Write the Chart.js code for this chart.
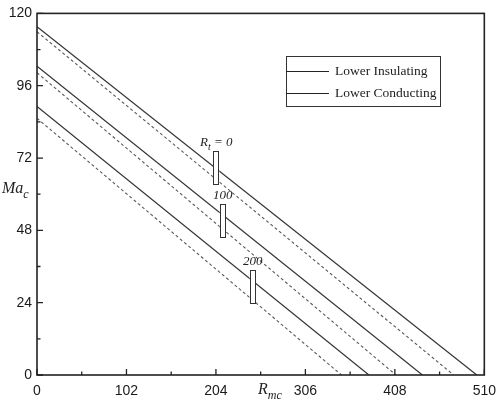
<!DOCTYPE html>
<html>
<head>
<meta charset="utf-8">
<script src="https://cdn.jsdelivr.net/npm/chart.js@4.4.1/dist/chart.umd.min.js"></script>
<style>
  html, body { margin: 0; padding: 0; background: #fff; }
  #chart { display: block; }
</style>
</head>
<body>
<canvas id="chart" width="504" height="399"></canvas>
<script>
// Rt levels and the lines
var rtLabels = ['R_t = 0', '100', '200'];
// Ma_c where each line meets Rmc = 0, and Rmc where it meets Ma_c = 0
var insulStart = [115.6, 102.5, 89.1];
var insulEnd = [501.4, 439.4, 378.4];
var conductStart = [113.9, 100.3, 85.2];
var conductEnd = [475, 409.2, 347.2];
// marker boxes: Rmc position and Ma_c range
var boxR = [204.4, 211.8, 246];
var boxLow = [63.4, 45.9, 23.7];
var boxHigh = [74.3, 56.8, 34.7];
// axis ticks
var xTicks = [0, 102, 204, 306, 408, 510];
var yTicks = [0, 24, 48, 72, 96, 120];

var SERIF = '"Liberation Serif", "Times New Roman", serif';
var SANS = '"Liberation Sans", Arial, sans-serif';

var datasets = [];
for (var i = 0; i < insulStart.length; i++) {
    datasets.push({
        label: 'Lower Insulating',
        data: [{ x: 0, y: insulStart[i] }, { x: insulEnd[i], y: 0 }],
        borderColor: '#333',
        borderWidth: 1.2,
        pointRadius: 0,
        fill: false,
    });
    datasets.push({
        label: 'Lower Conducting',
        data: [{ x: 0, y: conductStart[i] }, { x: conductEnd[i], y: 0 }],
        borderColor: '#5a5a5a',
        borderWidth: 1.1,
        borderDash: [3, 2.5],
        pointRadius: 0,
        fill: false,
    });
}

// italic text with a subscript, e.g. "R_t = 0"
function drawSub(ctx, text, x, y, size, align) {
    var parts = text.split('_');
    var main = parts[0];
    var sub = '', rest = '';
    if (parts.length > 1) {
        var m = parts[1].match(/^(\S+)(.*)$/);
        sub = m[1];
        rest = m[2];
    }
    var big = 'italic ' + size + 'px ' + SERIF;
    var small = 'italic ' + Math.round(size * 0.75) + 'px ' + SERIF;
    ctx.font = big;
    var w1 = ctx.measureText(main).width;
    var w3 = ctx.measureText(rest).width;
    ctx.font = small;
    var w2 = ctx.measureText(sub).width;
    var total = w1 + w2 + w3;
    var x0 = align === 'center' ? x - total / 2 : x;
    ctx.textBaseline = 'alphabetic';
    ctx.textAlign = 'left';
    ctx.font = big;
    ctx.fillText(main, x0, y);
    ctx.font = small;
    ctx.fillText(sub, x0 + w1, y + size * 0.3);
    ctx.font = big;
    ctx.fillText(rest, x0 + w1 + w2, y);
}

var framePlugin = {
    id: 'frame',
    afterDatasetsDraw: function (chart) {
        var ctx = chart.ctx;
        var xs = chart.scales.x, ys = chart.scales.y;
        ctx.save();
        // marker boxes
        for (var i = 0; i < boxR.length; i++) {
            var cx = xs.getPixelForValue(boxR[i]);
            var top = ys.getPixelForValue(boxHigh[i]);
            var bot = ys.getPixelForValue(boxLow[i]);
            ctx.fillStyle = '#fff';
            ctx.fillRect(cx - 3, top, 6, bot - top);
            ctx.strokeStyle = '#333';
            ctx.lineWidth = 1;
            ctx.strokeRect(Math.round(cx - 3) + 0.5, Math.round(top) + 0.5, 5, Math.round(bot - top));
            ctx.fillStyle = '#222';
            drawSub(ctx, rtLabels[i], cx, top - 5, 13, 'center');
        }
        ctx.restore();
    },
    afterDraw: function (chart) {
        var ctx = chart.ctx;
        var a = chart.chartArea;
        var xs = chart.scales.x, ys = chart.scales.y;
        ctx.save();
        ctx.strokeStyle = '#222';
        ctx.lineWidth = 1.6;
        ctx.strokeRect(a.left, a.top, a.right - a.left, a.bottom - a.top);
        ctx.lineWidth = 1.3;
        ctx.beginPath();
        for (var i = 0; i < xTicks.length; i++) {
            var px = xs.getPixelForValue(xTicks[i]);
            ctx.moveTo(px, a.bottom);
            ctx.lineTo(px, a.bottom - 6);
            if (i < xTicks.length - 1) {
                var mx = xs.getPixelForValue((xTicks[i] + xTicks[i + 1]) / 2);
                ctx.moveTo(mx, a.bottom);
                ctx.lineTo(mx, a.bottom - 3.5);
            }
        }
        for (var j = 0; j < yTicks.length; j++) {
            var py = ys.getPixelForValue(yTicks[j]);
            ctx.moveTo(a.left, py);
            ctx.lineTo(a.left + 6, py);
            if (j < yTicks.length - 1) {
                var my = ys.getPixelForValue((yTicks[j] + yTicks[j + 1]) / 2);
                ctx.moveTo(a.left, my);
                ctx.lineTo(a.left + 3.5, my);
            }
        }
        ctx.stroke();

        // axis titles
        ctx.fillStyle = '#222';
        drawSub(ctx, 'Ma_c', 2, 193, 16, 'left');
        drawSub(ctx, 'R_mc', 258, 394, 16, 'left');

        // legend
        var lx = 286, ly = 56, lw = 154, lh = 50;
        ctx.lineWidth = 1;
        ctx.strokeStyle = '#333';
        ctx.strokeRect(lx + 0.5, ly + 0.5, lw, lh);
        var names = [datasets[0].label, datasets[1].label];
        var rows = [71, 93];
        ctx.font = '13.5px ' + SERIF;
        ctx.textBaseline = 'middle';
        ctx.textAlign = 'left';
        for (var k = 0; k < names.length; k++) {
            ctx.beginPath();
            ctx.strokeStyle = '#222';
            ctx.moveTo(lx, rows[k] + 0.5);
            ctx.lineTo(lx + 43, rows[k] + 0.5);
            ctx.stroke();
            ctx.fillStyle = '#222';
            ctx.fillText(names[k], lx + 49, rows[k]);
        }
        ctx.restore();
    }
};

new Chart(document.getElementById('chart'), {
    type: 'line',
    data: { datasets: datasets },
    plugins: [framePlugin],
    options: {
        responsive: false,
        animation: false,
        layout: { padding: { top: 9, right: 15, left: 0, bottom: 0 } },
        plugins: {
            legend: { display: false },
            tooltip: { enabled: false },
        },
        scales: {
            x: {
                type: 'linear',
                min: 0,
                max: 510,
                afterFit: function (s) { s.height = 24; },
                afterBuildTicks: function (s) { s.ticks = xTicks.map(function (v) { return { value: v }; }); },
                grid: { display: false, drawTicks: false },
                border: { display: false },
                ticks: {
                    autoSkip: false,
                    maxRotation: 0,
                    padding: 8,
                    color: '#1a1a1a',
                    font: { family: SANS, size: 14 },
                },
            },
            y: {
                type: 'linear',
                min: 0,
                max: 120,
                afterFit: function (s) { s.width = 37; },
                afterBuildTicks: function (s) { s.ticks = yTicks.map(function (v) { return { value: v }; }); },
                grid: { display: false, drawTicks: false },
                border: { display: false },
                ticks: {
                    autoSkip: false,
                    padding: 5,
                    color: '#1a1a1a',
                    font: { family: SANS, size: 14 },
                },
            },
        },
    },
});
</script>
</body>
</html>
